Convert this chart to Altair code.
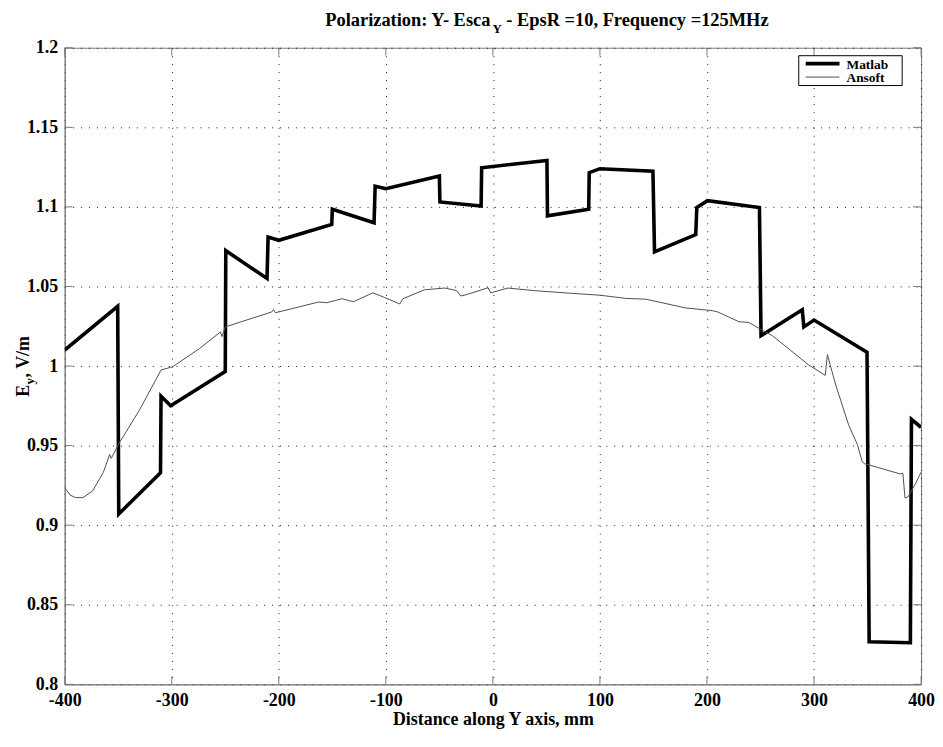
import altair as alt
import pandas as pd

SERIES = ["Matlab", "Ansoft"]

MATLAB_X = [-400, -350.5, -349.5, -310.5, -310, -301, -250, -249.5, -211, -210, -200,
            -150.5, -150, -111, -110, -100, -50, -49.5, -11, -10.5, 50.5, 51, 89.5, 90,
            100, 149.5, 151, 189.5, 190.5, 200.5, 249, 250.5, 289, 290.5, 300, 349.5,
            351.5, 390, 391, 400]
MATLAB_Y = [1.010, 1.0375, 0.907, 0.933, 0.981, 0.975, 0.9965, 1.0725, 1.055, 1.081, 1.079,
            1.089, 1.0985, 1.090, 1.113, 1.1114, 1.1194, 1.1031, 1.1006, 1.1246, 1.1292,
            1.0944, 1.0985, 1.1215, 1.124, 1.1224, 1.0717, 1.0826, 1.0996, 1.1039, 1.0996,
            1.0191, 1.0354, 1.0246, 1.0289, 1.0087, 0.8267, 0.8261, 0.9665, 0.9615]

ANSOFT_X = [-400, -395, -390, -383, -374, -364, -358, -356.5, -349, -330, -310, -299, -274,
            -254.5, -253, -250, -206.5, -205, -203, -163, -155, -141, -130.4, -112, -101,
            -87, -84, -64, -45, -34, -30, -24, -4.5, -2, 14, 40, 71, 100, 124, 143, 180,
            205, 210, 230, 239, 249, 261, 295, 310.5, 312.5, 320, 332.5, 340.5, 345, 347,
            380.5, 383, 385, 388, 394.5, 400]
ANSOFT_Y = [0.9236, 0.919, 0.9173, 0.9173, 0.9215, 0.933, 0.9444, 0.942, 0.9517, 0.9725,
            0.9975, 0.9996, 1.011, 1.0214, 1.0185, 1.0246, 1.034, 1.0355, 1.0335, 1.0402,
            1.0398, 1.0423, 1.0404, 1.046, 1.043, 1.039, 1.0423, 1.0479, 1.049, 1.0475,
            1.044, 1.045, 1.0492, 1.046, 1.049, 1.0473, 1.0458, 1.0445, 1.0425, 1.042,
            1.0365, 1.0348, 1.034, 1.0278, 1.0274, 1.0235, 1.0191, 1.0007, 0.9941, 1.0072,
            0.9887, 0.9626, 0.9507, 0.9399, 0.9387, 0.9322, 0.9326, 0.917, 0.918, 0.9257,
            0.9333]

X_TICKS = [-400, -300, -200, -100, 0, 100, 200, 300, 400]
Y_TICKS = [0.8, 0.85, 0.9, 0.95, 1.0, 1.05, 1.1, 1.15, 1.2]

TITLE_MAIN = "Polarization: Y- Esca"
TITLE_SUB = "Y"
TITLE_REST = "- EpsR =10, Frequency =125MHz"
X_TITLE = "Distance along Y axis, mm"
Y_TITLE_MAIN = "E"
Y_TITLE_SUB = "y"
Y_TITLE_REST = ", V/m"

FONT = "Liberation Serif"
FW = "bold"
FS = 18
W, H = 861, 640
FRAME = "#7a7a7a"
LINE_COLORS = ["#000000", "#505050"]
LINE_WIDTHS = [3.6, 1.0]

df = pd.concat([
    pd.DataFrame({"x": MATLAB_X, "y": MATLAB_Y, "series": SERIES[0], "i": range(len(MATLAB_X))}),
    pd.DataFrame({"x": ANSOFT_X, "y": ANSOFT_Y, "series": SERIES[1], "i": range(len(ANSOFT_X))}),
], ignore_index=True)

xticks_df = pd.DataFrame({"x": X_TICKS})
yticks_df = pd.DataFrame({"y": Y_TICKS})
one = pd.DataFrame({"k": [0]})
leg_df = pd.DataFrame({"series": SERIES})

xscale = alt.Scale(domain=[-400, 400], nice=False, zero=False)
yscale = alt.Scale(domain=[0.8, 1.2], nice=False, zero=False)

X_AXIS = alt.Axis(values=X_TICKS, title=X_TITLE, grid=True, gridDash=[1, 7], gridColor="black",
                  gridOpacity=0.9, gridWidth=1, ticks=False, domainColor=FRAME,
                  labelFont=FONT, labelFontSize=FS, labelFontWeight=FW, labelColor="black",
                  labelPadding=7, labelExpr="'' + datum.value", labelFlush=False,
                  titleFont=FONT, titleFontSize=FS, titleFontWeight=FW, titleColor="black",
                  titlePadding=1)
Y_AXIS = alt.Axis(values=Y_TICKS, title=None, grid=True, gridDash=[1, 7], gridColor="black",
                  gridOpacity=0.9, gridWidth=1, ticks=False, domainColor=FRAME,
                  labelFont=FONT, labelFontSize=FS, labelFontWeight=FW, labelColor="black",
                  labelPadding=7, labelExpr="'' + datum.value", labelFlush=False)

X = alt.X("x:Q", scale=xscale, axis=X_AXIS)
Y = alt.Y("y:Q", scale=yscale, axis=Y_AXIS)

lines = alt.Chart(df).mark_line(clip=True).encode(
    x=X, y=Y,
    color=alt.Color("series:N", scale=alt.Scale(domain=SERIES, range=LINE_COLORS), legend=None),
    strokeWidth=alt.StrokeWidth("series:N", scale=alt.Scale(type="ordinal", domain=SERIES, range=LINE_WIDTHS), legend=None),
    order="i:Q",
)

tick_len = 8
tb = alt.Chart(xticks_df).mark_rule(color=FRAME, strokeWidth=1).encode(x=X, y=alt.value(H), y2=alt.value(H - tick_len))
tt = alt.Chart(xticks_df).mark_rule(color=FRAME, strokeWidth=1).encode(x=X, y=alt.value(0), y2=alt.value(tick_len))
tl = alt.Chart(yticks_df).mark_rule(color=FRAME, strokeWidth=1).encode(y=Y, x=alt.value(0), x2=alt.value(tick_len))
tr = alt.Chart(yticks_df).mark_rule(color=FRAME, strokeWidth=1).encode(y=Y, x=alt.value(W), x2=alt.value(W - tick_len))

# legend (manual)
LX0, LX1, LY0, LY1 = 738, 842, 8, 38
box = alt.Chart(one).mark_rect(fill="white", stroke="black", strokeWidth=1).encode(
    x=alt.value(LX0), x2=alt.value(LX1), y=alt.value(LY0), y2=alt.value(LY1))
leg_layers = []
for k, (s, col, sw) in enumerate(zip(SERIES, LINE_COLORS, LINE_WIDTHS)):
    ry = 16 + k * 13.5
    sub = alt.Chart(leg_df).transform_filter(alt.datum.series == s)
    leg_layers.append(sub.mark_rule(color=col, strokeWidth=sw).encode(
        x=alt.value(LX0 + 7), x2=alt.value(LX0 + 41), y=alt.value(ry)))
    leg_layers.append(sub.mark_text(align="left", baseline="middle", font=FONT, fontSize=13.5,
                                    fontWeight="bold", color="black").encode(
        x=alt.value(LX0 + 48), y=alt.value(ry + 1), text="series:N"))

# main title pieces
TA = 428
TFS = 18.5
t1 = alt.Chart(one).mark_text(align="right", baseline="alphabetic", font=FONT, fontSize=TFS,
                              fontWeight=FW, color="black", text=TITLE_MAIN).encode(x=alt.value(TA), y=alt.value(-22))
t2 = alt.Chart(one).mark_text(align="left", baseline="alphabetic", font=FONT, fontSize=13,
                              fontWeight=FW, color="black", text=TITLE_SUB).encode(x=alt.value(TA + 2), y=alt.value(-15))
t3 = alt.Chart(one).mark_text(align="left", baseline="alphabetic", font=FONT, fontSize=TFS,
                              fontWeight=FW, color="black", text=TITLE_REST).encode(x=alt.value(TA + 16), y=alt.value(-22))

# y axis title pieces (rotated)
YB = H / 2 + 31
y1 = alt.Chart(one).mark_text(align="left", baseline="alphabetic", angle=270, font=FONT, fontSize=FS,
                              fontWeight=FW, color="black", text=Y_TITLE_MAIN).encode(x=alt.value(-36), y=alt.value(YB))
y2 = alt.Chart(one).mark_text(align="left", baseline="alphabetic", angle=270, font=FONT, fontSize=13,
                              fontWeight=FW, color="black", text=Y_TITLE_SUB).encode(x=alt.value(-31), y=alt.value(YB - 12.5))
y3 = alt.Chart(one).mark_text(align="left", baseline="alphabetic", angle=270, font=FONT, fontSize=FS,
                              fontWeight=FW, color="black", text=Y_TITLE_REST).encode(x=alt.value(-36), y=alt.value(YB - 19.5))

chart = alt.layer(lines, tb, tt, tl, tr, box, *leg_layers, t1, t2, t3, y1, y2, y3).properties(
    width=W, height=H,
    autosize=alt.AutoSizeParams(type="none"),
    padding={"left": 57, "top": 38, "right": 14, "bottom": 50},
    background="white",
).configure_view(stroke=FRAME, strokeWidth=1)

chart.save("out.html", embed_options={"renderer": "svg", "actions": False})
